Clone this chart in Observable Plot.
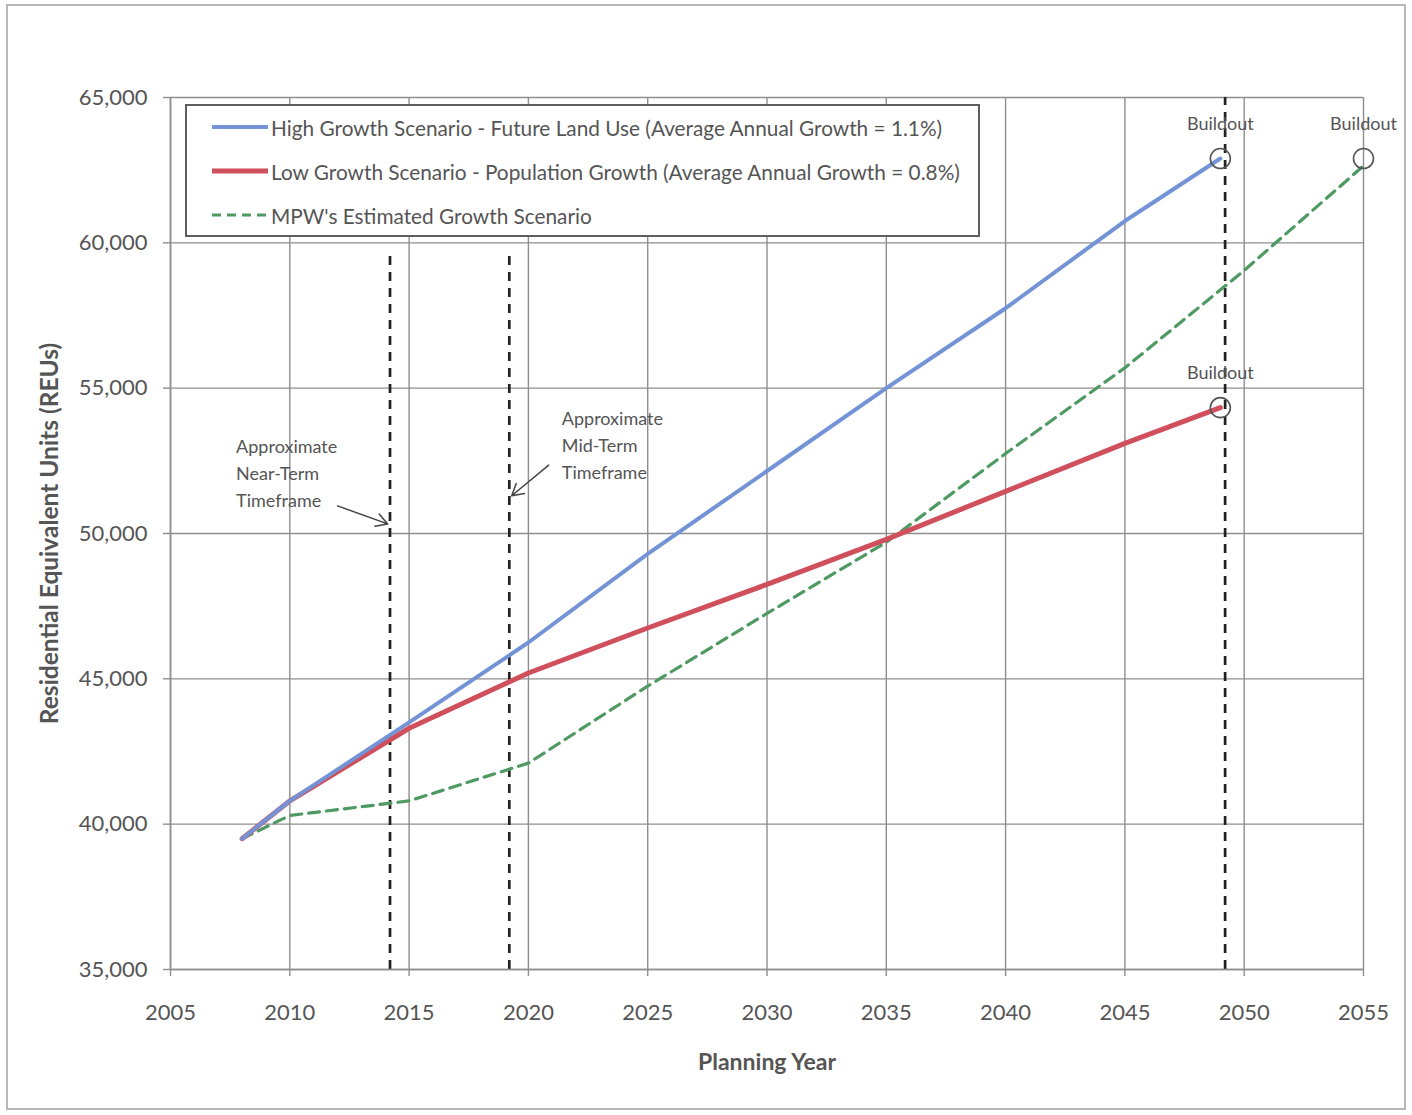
<!DOCTYPE html>
<html><head><meta charset="utf-8">
<script src="https://cdn.jsdelivr.net/npm/d3@7"></script>
<script src="https://cdn.jsdelivr.net/npm/@observablehq/plot@0.6"></script>
<style>
body{margin:0;background:#fff;font-family:Lato,"Open Sans",sans-serif;}
#wrap{position:relative;width:1412px;height:1115px;overflow:hidden;}
#wrap svg{position:absolute;left:0;top:0;}
#border{position:absolute;left:6px;top:4px;width:1396px;height:1102px;border:2px solid #b8b8b8;pointer-events:none;}
#legend{position:absolute;left:185px;top:104px;width:795px;height:133px;border:2px solid #5e5e5e;background:#fff;box-sizing:border-box;}
.row{position:absolute;left:23px;height:30px;display:flex;align-items:center;font-size:20.8px;color:#555;white-space:nowrap;}
.row svg{position:static !important;margin-right:1px;}
</style></head>
<body>
<div id="wrap">
  <div id="chart"></div>
  <div id="legend"></div>
  <div id="border"></div>
</div>
<script>
// ---- data ----
const xTicks = [2005, 2010, 2015, 2020, 2025, 2030, 2035, 2040, 2045, 2050, 2055];
const yTicks = [35000, 40000, 45000, 50000, 55000, 60000, 65000];

const highYears  = [2008, 2010, 2015, 2020, 2025, 2030, 2035, 2040, 2045, 2049];
const highValues = [39500, 40800, 43500, 46250, 49300, 52150, 55000, 57750, 60750, 62900];

const lowYears  = [2008, 2010, 2015, 2020, 2025, 2030, 2035, 2040, 2045, 2049];
const lowValues = [39500, 40800, 43300, 45200, 46750, 48250, 49800, 51450, 53100, 54330];

const mpwYears  = [2008, 2010, 2015, 2020, 2025, 2030, 2035, 2040, 2045, 2050, 2055];
const mpwValues = [39500, 40300, 40800, 42100, 44750, 47250, 49700, 52750, 55700, 59050, 62650];

const seriesNames = [
  "High Growth Scenario - Future Land Use (Average Annual Growth = 1.1%)",
  "Low Growth Scenario - Population Growth (Average Annual Growth = 0.8%)",
  "MPW's Estimated Growth Scenario"
];
const seriesColors = ["#7393d6", "#cf4f5c", "#4f9a62"];

// timeframe markers
const markerYears = [2014.2, 2019.2, 2049.2];
const markerTops  = [59700, 59700, 65000];

// buildout points
const buildoutYears  = [2049, 2055, 2049];
const buildoutValues = [62900, 62900, 54330];
const buildoutLabel = "Buildout";

// annotation text & arrows
const noteTexts  = ["Approximate\nNear-Term\nTimeframe", "Approximate\nMid-Term\nTimeframe"];
const noteYears  = [2007.75, 2021.4];
const noteValues = [52150, 53110];
const arrowFromYears  = [2012.0, 2020.85];
const arrowFromValues = [50950, 52350];
const arrowToYears    = [2014.1, 2019.3];
const arrowToValues   = [50330, 51300];

// ---- build tables ----
const high = highYears.map((x, i) => ({x, y: highValues[i]}));
const low  = lowYears.map((x, i) => ({x, y: lowValues[i]}));
const mpw  = mpwYears.map((x, i) => ({x, y: mpwValues[i]}));
const markers = markerYears.map((x, i) => ({x, top: markerTops[i]}));
const buildouts = buildoutYears.map((x, i) => ({x, y: buildoutValues[i]}));
const notes = noteTexts.map((t, i) => ({t, x: noteYears[i], y: noteValues[i]}));
const arrows = arrowFromYears.map((x1, i) => ({x1, y1: arrowFromValues[i], x2: arrowToYears[i], y2: arrowToValues[i]}));

const gridColor = "#8e8e8e";

const chart = Plot.plot({
  width: 1412, height: 1115,
  marginLeft: 170, marginRight: 49, marginTop: 97, marginBottom: 146,
  style: {fontFamily: "Lato, 'Open Sans', sans-serif", fontSize: "22px", color: "#555", background: "transparent", overflow: "visible"},
  x: {domain: [2005, 2055], ticks: xTicks, tickFormat: d => String(d), tickSize: 7, tickPadding: 28, label: null},
  y: {domain: [35000, 65000], ticks: yTicks, tickFormat: d3.format(","), tickSize: 7, tickPadding: 16, label: null},
  marks: [
    Plot.ruleX(xTicks, {stroke: gridColor, strokeWidth: 1.4}),
    Plot.ruleY(yTicks, {stroke: gridColor, strokeWidth: 1.4}),
    Plot.ruleX(markers, {x: "x", y1: 35000, y2: "top", stroke: "#222", strokeWidth: 2.7, strokeDasharray: "9,7"}),
    Plot.line(mpw, {x: "x", y: "y", stroke: seriesColors[2], strokeWidth: 3.2, strokeDasharray: "11,7"}),
    Plot.line(low, {x: "x", y: "y", stroke: seriesColors[1], strokeWidth: 5, strokeLinejoin: "round", strokeLinecap: "round"}),
    Plot.line(high, {x: "x", y: "y", stroke: seriesColors[0], strokeWidth: 4, strokeLinejoin: "round", strokeLinecap: "round"}),
    Plot.dot(buildouts, {x: "x", y: "y", r: 10, stroke: "#555", strokeWidth: 1.6, fill: "none"}),
    Plot.text(buildouts, {x: "x", y: "y", text: () => buildoutLabel, dy: -34, fontSize: 18, fill: "#555"}),
    Plot.text(notes, {x: "x", y: "y", text: "t", textAnchor: "start", fontSize: 18, lineHeight: 1.5, fill: "#555"}),
    Plot.arrow(arrows, {x1: "x1", y1: "y1", x2: "x2", y2: "y2", stroke: "#444", strokeWidth: 1.5, headLength: 13, bend: false}),
    Plot.text(["Planning Year"], {frameAnchor: "bottom", dy: 100, text: d => d, fontWeight: "bold", fontSize: 23, fill: "#555"}),
    Plot.text(["Residential Equivalent Units (REUs)"], {frameAnchor: "left", dx: -120, rotate: -90, textAnchor: "middle", text: d => d, fontWeight: "bold", fontSize: 24.5, fill: "#555"}),
    Plot.axisX({ticks: xTicks, tickFormat: d => String(d), tickSize: 7, tickPadding: 28, stroke: gridColor, strokeWidth: 1.4, label: null}),
    Plot.axisY({ticks: yTicks, tickFormat: d3.format(","), tickSize: 7, tickPadding: 16, stroke: gridColor, strokeWidth: 1.4, label: null}),
    Plot.ruleX([2005], {stroke: gridColor, strokeWidth: 1.6}),
    Plot.ruleY([35000], {stroke: gridColor, strokeWidth: 1.6})
  ]
});
document.getElementById("chart").appendChild(chart);

// ---- legend (inside plot area, like the original) ----
const legend = document.getElementById("legend");
const rowTops = [6, 50, 94];
seriesNames.forEach((name, i) => {
  const row = document.createElement("div");
  row.className = "row";
  row.style.top = rowTops[i] + "px";
  const dash = i === 2 ? 'stroke-dasharray="9,6"' : "";
  const w = i === 2 ? 3 : (i === 1 ? 5 : 4);
  row.innerHTML = `<svg width="60" height="12"><line x1="2" y1="6" x2="58" y2="6" stroke="${seriesColors[i]}" stroke-width="${w}" ${dash}/></svg><span>${name}</span>`;
  legend.appendChild(row);
});
</script>
</body></html>
